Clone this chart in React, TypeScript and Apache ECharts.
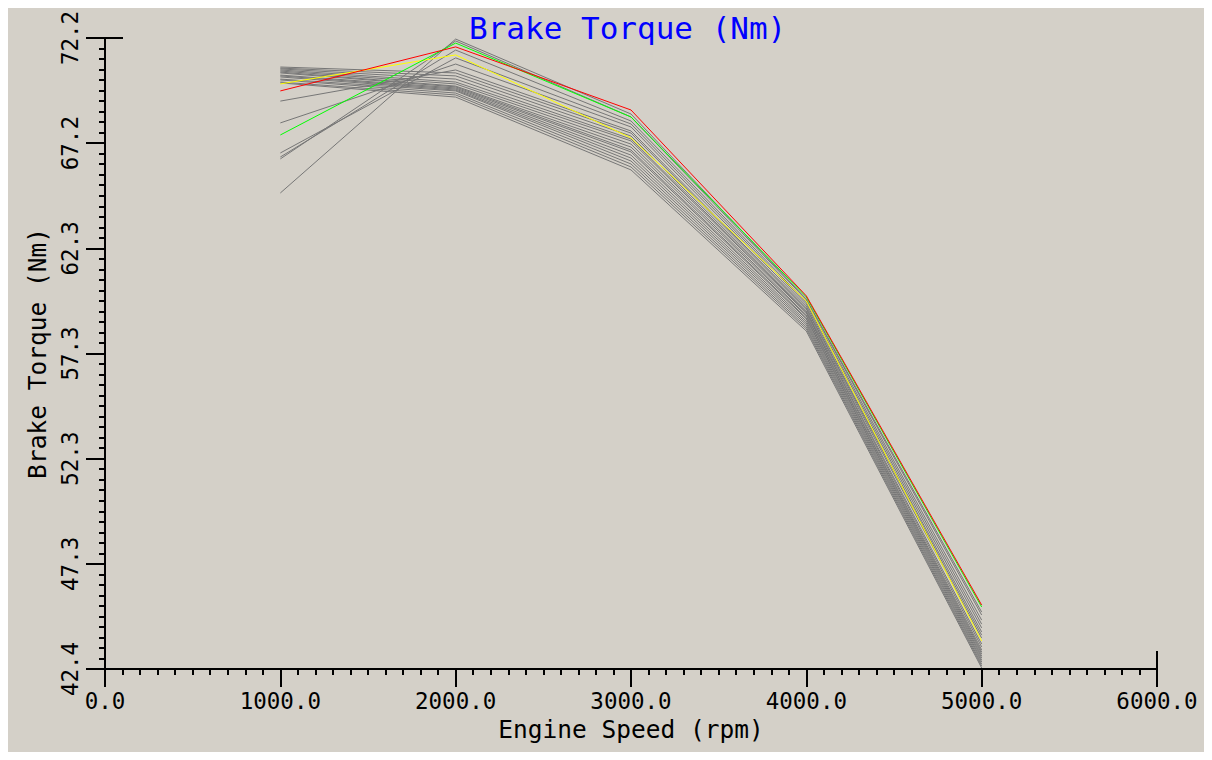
import React, { useEffect, useRef } from "react";
import * as echarts from "echarts";

const speeds = [1000, 2000, 3000, 4000, 5000];
const yTickLabels = ["42.4", "47.3", "52.3", "57.3", "62.3", "67.2", "72.2"];
const Y_MIN = 42.4;
const Y_MAX = 72.2;

const redRun = [69.7, 71.78, 68.8, 60.02, 45.42];
const greenRun = [67.62, 71.96, 68.47, 59.97, 45.33];
const yellowRun = [70.03, 71.4, 67.48, 59.78, 43.72];

const grayRun01 = [64.88, 72.15, 68.61, 59.87, 45.09];
const grayRun02 = [66.49, 72.06, 68.47, 59.83, 44.95];
const grayRun03 = [66.58, 71.63, 68.28, 59.73, 44.71];
const grayRun04 = [66.77, 71.26, 68.14, 59.64, 44.52];
const grayRun05 = [68.19, 70.97, 68.0, 59.54, 44.34];
const grayRun06 = [69.22, 70.69, 67.81, 59.45, 44.15];
const grayRun07 = [70.83, 70.55, 67.71, 59.4, 44.0];
const grayRun08 = [70.78, 70.41, 67.57, 59.31, 43.86];
const grayRun09 = [70.74, 70.26, 67.43, 59.26, 43.58];
const grayRun10 = [70.69, 70.12, 67.34, 59.21, 43.44];
const grayRun11 = [70.64, 70.03, 67.19, 59.12, 43.3];
const grayRun12 = [70.59, 69.93, 67.05, 59.07, 43.2];
const grayRun13 = [70.55, 69.89, 66.91, 58.98, 43.11];
const grayRun14 = [70.45, 69.84, 66.82, 58.93, 43.01];
const grayRun15 = [70.41, 69.79, 66.67, 58.83, 42.92];
const grayRun16 = [70.36, 69.74, 66.53, 58.74, 42.82];
const grayRun17 = [70.26, 69.7, 66.39, 58.65, 42.73];
const grayRun18 = [70.22, 69.6, 66.25, 58.55, 42.63];
const grayRun19 = [70.12, 69.51, 66.11, 58.46, 42.54];
const grayRun20 = [70.08, 69.41, 65.97, 58.36, 42.45];

const grayRuns = [
  grayRun01, grayRun02, grayRun03, grayRun04, grayRun05, grayRun06, grayRun07,
  grayRun08, grayRun09, grayRun10, grayRun11, grayRun12, grayRun13, grayRun14,
  grayRun15, grayRun16, grayRun17, grayRun18, grayRun19, grayRun20,
];

const FONT = "'DejaVu Sans Mono', monospace";

function lineSeries(name: string, vals: number[], color: string, z: number) {
  return {
    name,
    type: "line",
    data: speeds.map((s, i) => [s, vals[i]]),
    symbol: "none",
    lineStyle: { color, width: 1 },
    z,
    silent: true,
  };
}

export default function App() {
  const ref = useRef<HTMLDivElement>(null);
  useEffect(() => {
    if (!ref.current) return;
    const chart = echarts.init(ref.current, null, { renderer: "svg" });
    const yInterval = (Y_MAX - Y_MIN) / 6;
    const series: any[] = [];
    grayRuns.forEach((g, i) => series.push(lineSeries("run" + (i + 1), g, "#767676", 2)));
    series.push(lineSeries("yellow", yellowRun, "#ffff00", 3));
    series.push(lineSeries("green", greenRun, "#00ff00", 4));
    series.push(lineSeries("red", redRun, "#ff0000", 5));

    chart.setOption({
      animation: false,
      backgroundColor: "#d4d0c8",
      textStyle: { fontFamily: FONT },
      title: {
        text: "Brake Torque (Nm)",
        left: 461,
        top: 0,
        padding: [4, 0, 0, 0],
        textStyle: { color: "#0000ff", fontSize: 31, fontWeight: "normal", fontFamily: FONT },
      },
      grid: { left: 97, top: 30, right: 47, bottom: 83, containLabel: false, outerBoundsMode: "none" },
      xAxis: {
        type: "value",
        min: 0,
        max: 6000,
        interval: 1000,
        name: "Engine Speed (rpm)",
        nameLocation: "middle",
        nameGap: 45,
        nameTextStyle: { color: "#000", fontSize: 24.5, fontFamily: FONT },
        axisLine: { lineStyle: { color: "#000", width: 2 } },
        axisTick: { show: true, length: 18, lineStyle: { color: "#000", width: 2 } },
        minorTick: { show: true, splitNumber: 10, length: 6, lineStyle: { color: "#000", width: 2 } },
        splitLine: { show: false },
        minorSplitLine: { show: false },
        axisLabel: {
          color: "#000",
          fontSize: 22.5,
          fontFamily: FONT,
          margin: 20,
          formatter: (v: number) => v.toFixed(1),
        },
      },
      yAxis: {
        type: "value",
        min: Y_MIN,
        max: Y_MAX,
        interval: yInterval,
        name: "Brake Torque (Nm)",
        nameLocation: "middle",
        nameGap: 52,
        nameRotate: 90,
        nameTextStyle: { color: "#000", fontSize: 24.5, fontFamily: FONT },
        axisLine: { lineStyle: { color: "#000", width: 2 } },
        axisTick: { show: true, length: 19, lineStyle: { color: "#000", width: 2 } },
        minorTick: { show: true, splitNumber: 10, length: 6, lineStyle: { color: "#000", width: 2 } },
        splitLine: { show: false },
        minorSplitLine: { show: false },
        axisLabel: {
          color: "#000",
          fontSize: 22.5,
          fontFamily: FONT,
          rotate: 90,
          margin: 24,
          showMinLabel: true,
          showMaxLabel: true,
          formatter: (v: number) => {
            const idx = Math.round((v - Y_MIN) / yInterval);
            return yTickLabels[idx] ?? "";
          },
        },
      },
      series,
    });

    const topLeft = chart.convertToPixel({ gridIndex: 0 }, [0, Y_MAX]) as number[];
    const botRight = chart.convertToPixel({ gridIndex: 0 }, [6000, Y_MIN]) as number[];
    if (topLeft && botRight) {
      chart.setOption({
        graphic: [
          {
            type: "line",
            shape: { x1: topLeft[0], y1: topLeft[1], x2: topLeft[0] + 18, y2: topLeft[1] },
            style: { stroke: "#000", lineWidth: 2 },
            z: 10,
          },
          {
            type: "line",
            shape: { x1: botRight[0], y1: botRight[1], x2: botRight[0], y2: botRight[1] - 18 },
            style: { stroke: "#000", lineWidth: 2 },
            z: 10,
          },
        ],
      });
    }

    return () => chart.dispose();
  }, []);

  return <div ref={ref} style={{ width: 1196, height: 744 }} />;
}
